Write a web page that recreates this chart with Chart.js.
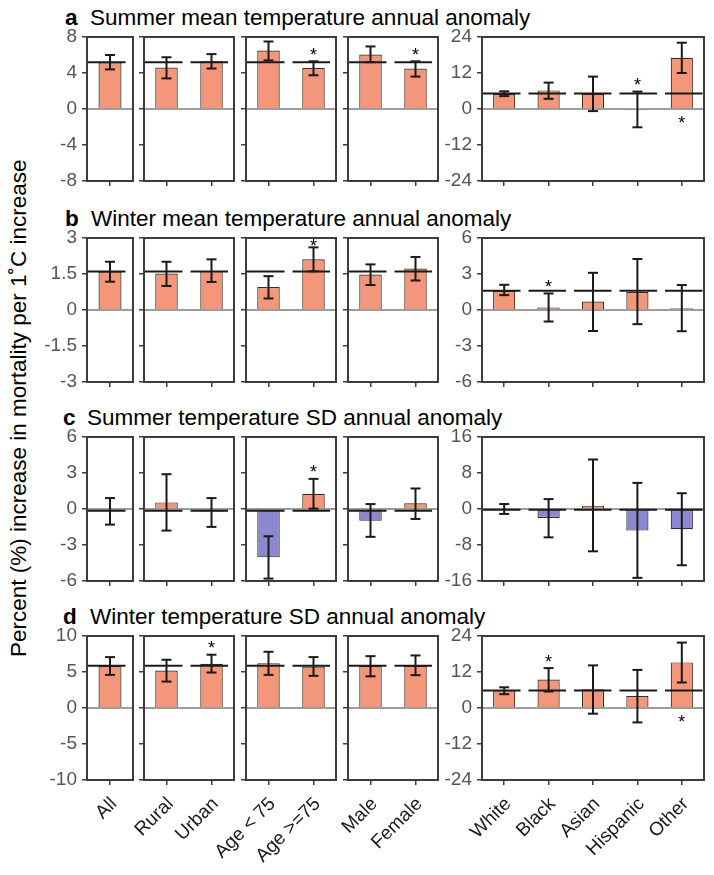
<!DOCTYPE html>
<html><head><meta charset="utf-8">
<script src="https://cdn.jsdelivr.net/npm/chart.js@4.4.1/dist/chart.umd.min.js"></script>
<style>
body{margin:0;background:#fff;width:714px;height:875px;position:relative;overflow:hidden;font-family:"Liberation Sans",Arial,sans-serif;}
canvas{position:absolute;}
.ttl{position:absolute;font-size:22.5px;color:#000;white-space:nowrap;line-height:1;}
.ttl b{font-weight:bold;}
#ytitle{position:absolute;font-size:22.5px;line-height:1;width:540px;text-align:center;white-space:nowrap;transform:rotate(-90deg);}
</style></head><body>
<div id="ytitle">Percent (%) increase in mortality per 1&#x2DA;C increase</div>
<script>
// ---- categories (grouped into panels) ----
const groups = [['All'], ['Rural','Urban'], ['Age < 75','Age >=75'], ['Male','Female'], ['White','Black','Asian','Hispanic','Other']];

// ---- panel titles ----
const rowLetters = ['a','b','c','d'];
const rowTitles = ['Summer mean temperature annual anomaly','Winter mean temperature annual anomaly','Summer temperature SD annual anomaly','Winter temperature SD annual anomaly'];

// ---- values, order: All, Rural, Urban, Age<75, Age>=75, Male, Female, White, Black, Asian, Hispanic, Other ----
const summerMeanEst = [5.2, 4.6, 5.3, 6.5, 4.55, 6.05, 4.5, 5.1, 6.2, 5.1, -0.4, 17.1];
const summerMeanLo  = [4.4, 3.4, 4.5, 5.4, 3.75, 5.2, 3.6, 4.3, 3.4, -0.7, -6.1, 12.0];
const summerMeanHi  = [6.0, 5.75, 6.1, 7.5, 5.3, 6.95, 5.3, 5.9, 8.8, 10.8, 5.8, 22.1];
const summerMeanSig = [0, 0, 0, 0, 1, 0, 1, 0, 0, 0, 1, -1];

const winterMeanEst = [1.6, 1.52, 1.63, 0.96, 2.11, 1.48, 1.73, 1.6, 0.2, 0.7, 1.5, 0.14];
const winterMeanLo  = [1.18, 1.0, 1.17, 0.48, 1.61, 1.04, 1.23, 1.24, -0.96, -1.75, -1.18, -1.77];
const winterMeanHi  = [2.01, 2.01, 2.11, 1.41, 2.61, 1.9, 2.21, 2.1, 1.38, 3.1, 4.25, 2.08];
const winterMeanSig = [0, 0, 0, 0, 1, 0, 0, 0, 1, 0, 0, 0];

const summerSdEst = [-0.15, 0.55, -0.2, -4.03, 1.27, -0.97, 0.47, -0.1, -2.0, 0.74, -4.8, -4.5];
const summerSdLo  = [-1.3, -1.8, -1.49, -5.8, 0.03, -2.32, -0.83, -1.1, -6.3, -9.4, -15.3, -12.5];
const summerSdHi  = [0.91, 2.9, 0.91, -2.27, 2.51, 0.41, 1.71, 1.1, 2.2, 11.0, 5.8, 3.5];
const summerSdSig = [0, 0, 0, 0, 1, 0, 0, 0, 0, 0, 0, 0];

const winterSdEst = [5.86, 5.2, 6.14, 6.23, 5.77, 5.86, 5.86, 5.9, 9.5, 6.25, 4.0, 15.2];
const winterSdLo  = [4.6, 3.67, 4.93, 4.6, 4.47, 4.4, 4.56, 4.6, 5.5, -1.9, -4.8, 8.5];
const winterSdHi  = [7.07, 6.7, 7.4, 7.81, 7.07, 7.2, 7.3, 6.9, 13.3, 14.2, 12.7, 21.8];
const winterSdSig = [0, 0, 1, 0, 0, 0, 0, 0, 1, 0, 0, -1];

// ---- axis limits / tick steps: panels 1-4 and panel 5 ----
const smallMax  = [8, 3, 6, 10];
const smallStep = [4, 1.5, 3, 5];
const largeMax  = [24, 6, 16, 24];
const largeStep = [12, 3, 8, 12];

const rows = [
  {est: summerMeanEst, lo: summerMeanLo, hi: summerMeanHi, sig: summerMeanSig},
  {est: winterMeanEst, lo: winterMeanLo, hi: winterMeanHi, sig: winterMeanSig},
  {est: summerSdEst, lo: summerSdLo, hi: summerSdHi, sig: summerSdSig},
  {est: winterSdEst, lo: winterSdLo, hi: winterSdHi, sig: winterSdSig}
];

// ---- layout ----
const colL = [87, 144, 246, 348, 482];
const colR = [133, 234, 336, 438, 704];
const rowT = [37, 238, 437, 636];
const PH = 144;
const WY = 56, PT = 14, PR = 22;
const titleLetterX = [65, 65, 63, 63];
const titleTextX = [90, 91, 87, 90];

const SALMON = '#F4967A', PURPLE = '#8C88D0';
const FONT = '"Liberation Sans", Arial, sans-serif';

const yt = document.getElementById('ytitle');
yt.style.left = (19 - 270) + 'px';
yt.style.top = (408 - 11.25) + 'px';

function makeOverlay(spec) {
  return {
    id: 'overlay',
    afterDatasetsDraw(chart) {
      const ctx = chart.ctx, a = chart.chartArea, x = chart.scales.x, y = chart.scales.y;
      ctx.save();
      ctx.lineCap = 'butt';
      ctx.setLineDash([]);
      const ln = (x1, y1, x2, y2) => { ctx.beginPath(); ctx.moveTo(x1, y1); ctx.lineTo(x2, y2); ctx.stroke(); };
      // zero line
      const y0 = y.getPixelForValue(0);
      ctx.strokeStyle = '#7d7d7d'; ctx.lineWidth = 1.5;
      ln(a.left, y0, a.right, y0);
      // dashed reference line at the overall ("All") estimate
      const yr = y.getPixelForValue(spec.ref);
      ctx.strokeStyle = '#1a1a1a'; ctx.lineWidth = 2;
      const DASH = 37.5, GAP = 8;
      for (let s = a.left + 1; s < a.right; s += DASH + GAP) {
        ln(s, yr, Math.min(s + DASH, a.right), yr);
      }
      // error bars
      ctx.strokeStyle = '#1a1a1a'; ctx.lineWidth = 2;
      for (let i = 0; i < spec.n; i++) {
        const xc = x.getPixelForValue(i);
        const yl = y.getPixelForValue(spec.lo[i]), yh = y.getPixelForValue(spec.hi[i]);
        ln(xc, yl, xc, yh);
        ln(xc - 5, yl, xc + 5, yl);
        ln(xc - 5, yh, xc + 5, yh);
        if (spec.sig[i] !== 0) {
          ctx.fillStyle = '#000';
          ctx.font = '18px ' + FONT;
          ctx.textAlign = 'center'; ctx.textBaseline = 'alphabetic';
          if (spec.sig[i] > 0) {
            const c = Math.max(yh - 10.5, a.top + 4);
            ctx.fillText('*', xc, c + 10);
          } else ctx.fillText('*', xc, y0 + 19.5);
        }
      }
      // frame
      ctx.strokeStyle = '#3c3c3c'; ctx.lineWidth = 2;
      ctx.strokeRect(a.left, a.top, a.right - a.left, a.bottom - a.top);
      ctx.restore();
    }
  };
}

const offsets = [0, 1, 3, 5, 7];
rows.forEach((row, r) => {
  // title
  const tl = document.createElement('div');
  tl.className = 'ttl'; tl.innerHTML = '<b>' + rowLetters[r] + '</b>';
  tl.style.left = titleLetterX[r] + 'px'; tl.style.top = (rowT[r] - 11 - 19) + 'px';
  document.body.appendChild(tl);
  const tt = document.createElement('div');
  tt.className = 'ttl'; tt.textContent = rowTitles[r];
  tt.style.left = titleTextX[r] + 'px'; tt.style.top = (rowT[r] - 11 - 19) + 'px';
  document.body.appendChild(tt);

  groups.forEach((labels, p) => {
    const n = labels.length, o = offsets[p];
    const est = row.est.slice(o, o + n);
    const lo = row.lo.slice(o, o + n), hi = row.hi.slice(o, o + n), sig = row.sig.slice(o, o + n);
    const big = p === 4;
    const ymax = big ? largeMax[r] : smallMax[r];
    const ystep = big ? largeStep[r] : smallStep[r];
    const XH = r === 3 ? 95 : 9;
    const L = colL[p], R = colR[p], T = rowT[r];
    const cv = document.createElement('canvas');
    cv.width = WY + (R - L) + PR; cv.height = PT + PH + XH;
    cv.style.left = (L - WY) + 'px'; cv.style.top = (T - PT) + 'px';
    document.body.appendChild(cv);
    new Chart(cv, {
      type: 'bar',
      data: { labels: labels, datasets: [{
        data: est,
        backgroundColor: est.map(v => v >= 0 ? SALMON : PURPLE),
        borderColor: '#3a2a22', borderWidth: 1.2,
        barPercentage: 0.5, categoryPercentage: 1.0
      }]},
      options: {
        responsive: false, animation: false, devicePixelRatio: 1,
        layout: { padding: { top: PT, right: PR, bottom: 0, left: 0 } },
        plugins: { legend: { display: false }, tooltip: { enabled: false } },
        scales: {
          x: {
            type: 'category', offset: true,
            grid: { display: true, offset: false, drawOnChartArea: false, drawTicks: true, tickLength: 5, color: '#3c3c3c', lineWidth: 1.5 },
            border: { display: false },
            ticks: { display: r === 3, autoSkip: false, maxRotation: 45, minRotation: 45, padding: 8, labelOffset: 4,
                     color: '#1a1a1a', font: { family: FONT, size: 19 } },
            afterFit: s => { s.height = XH; s.paddingLeft = 0; s.paddingRight = 0; s.paddingTop = 0; s.paddingBottom = 0; }
          },
          y: {
            min: -ymax, max: ymax,
            grid: { display: true, drawOnChartArea: false, drawTicks: true, tickLength: 5, color: '#3c3c3c', lineWidth: 1.5 },
            border: { display: false },
            ticks: { display: p === 0 || p === 4, stepSize: ystep, padding: 5, color: '#555555',
                     font: { family: FONT, size: 19 }, callback: v => String(v) },
            afterFit: s => { s.width = WY; s.paddingTop = 0; s.paddingBottom = 0; s.paddingLeft = 0; s.paddingRight = 0; }
          }
        }
      },
      plugins: [makeOverlay({ n: n, lo: lo, hi: hi, sig: sig, ref: row.est[0] })]
    });
  });
});
</script>
</body></html>
